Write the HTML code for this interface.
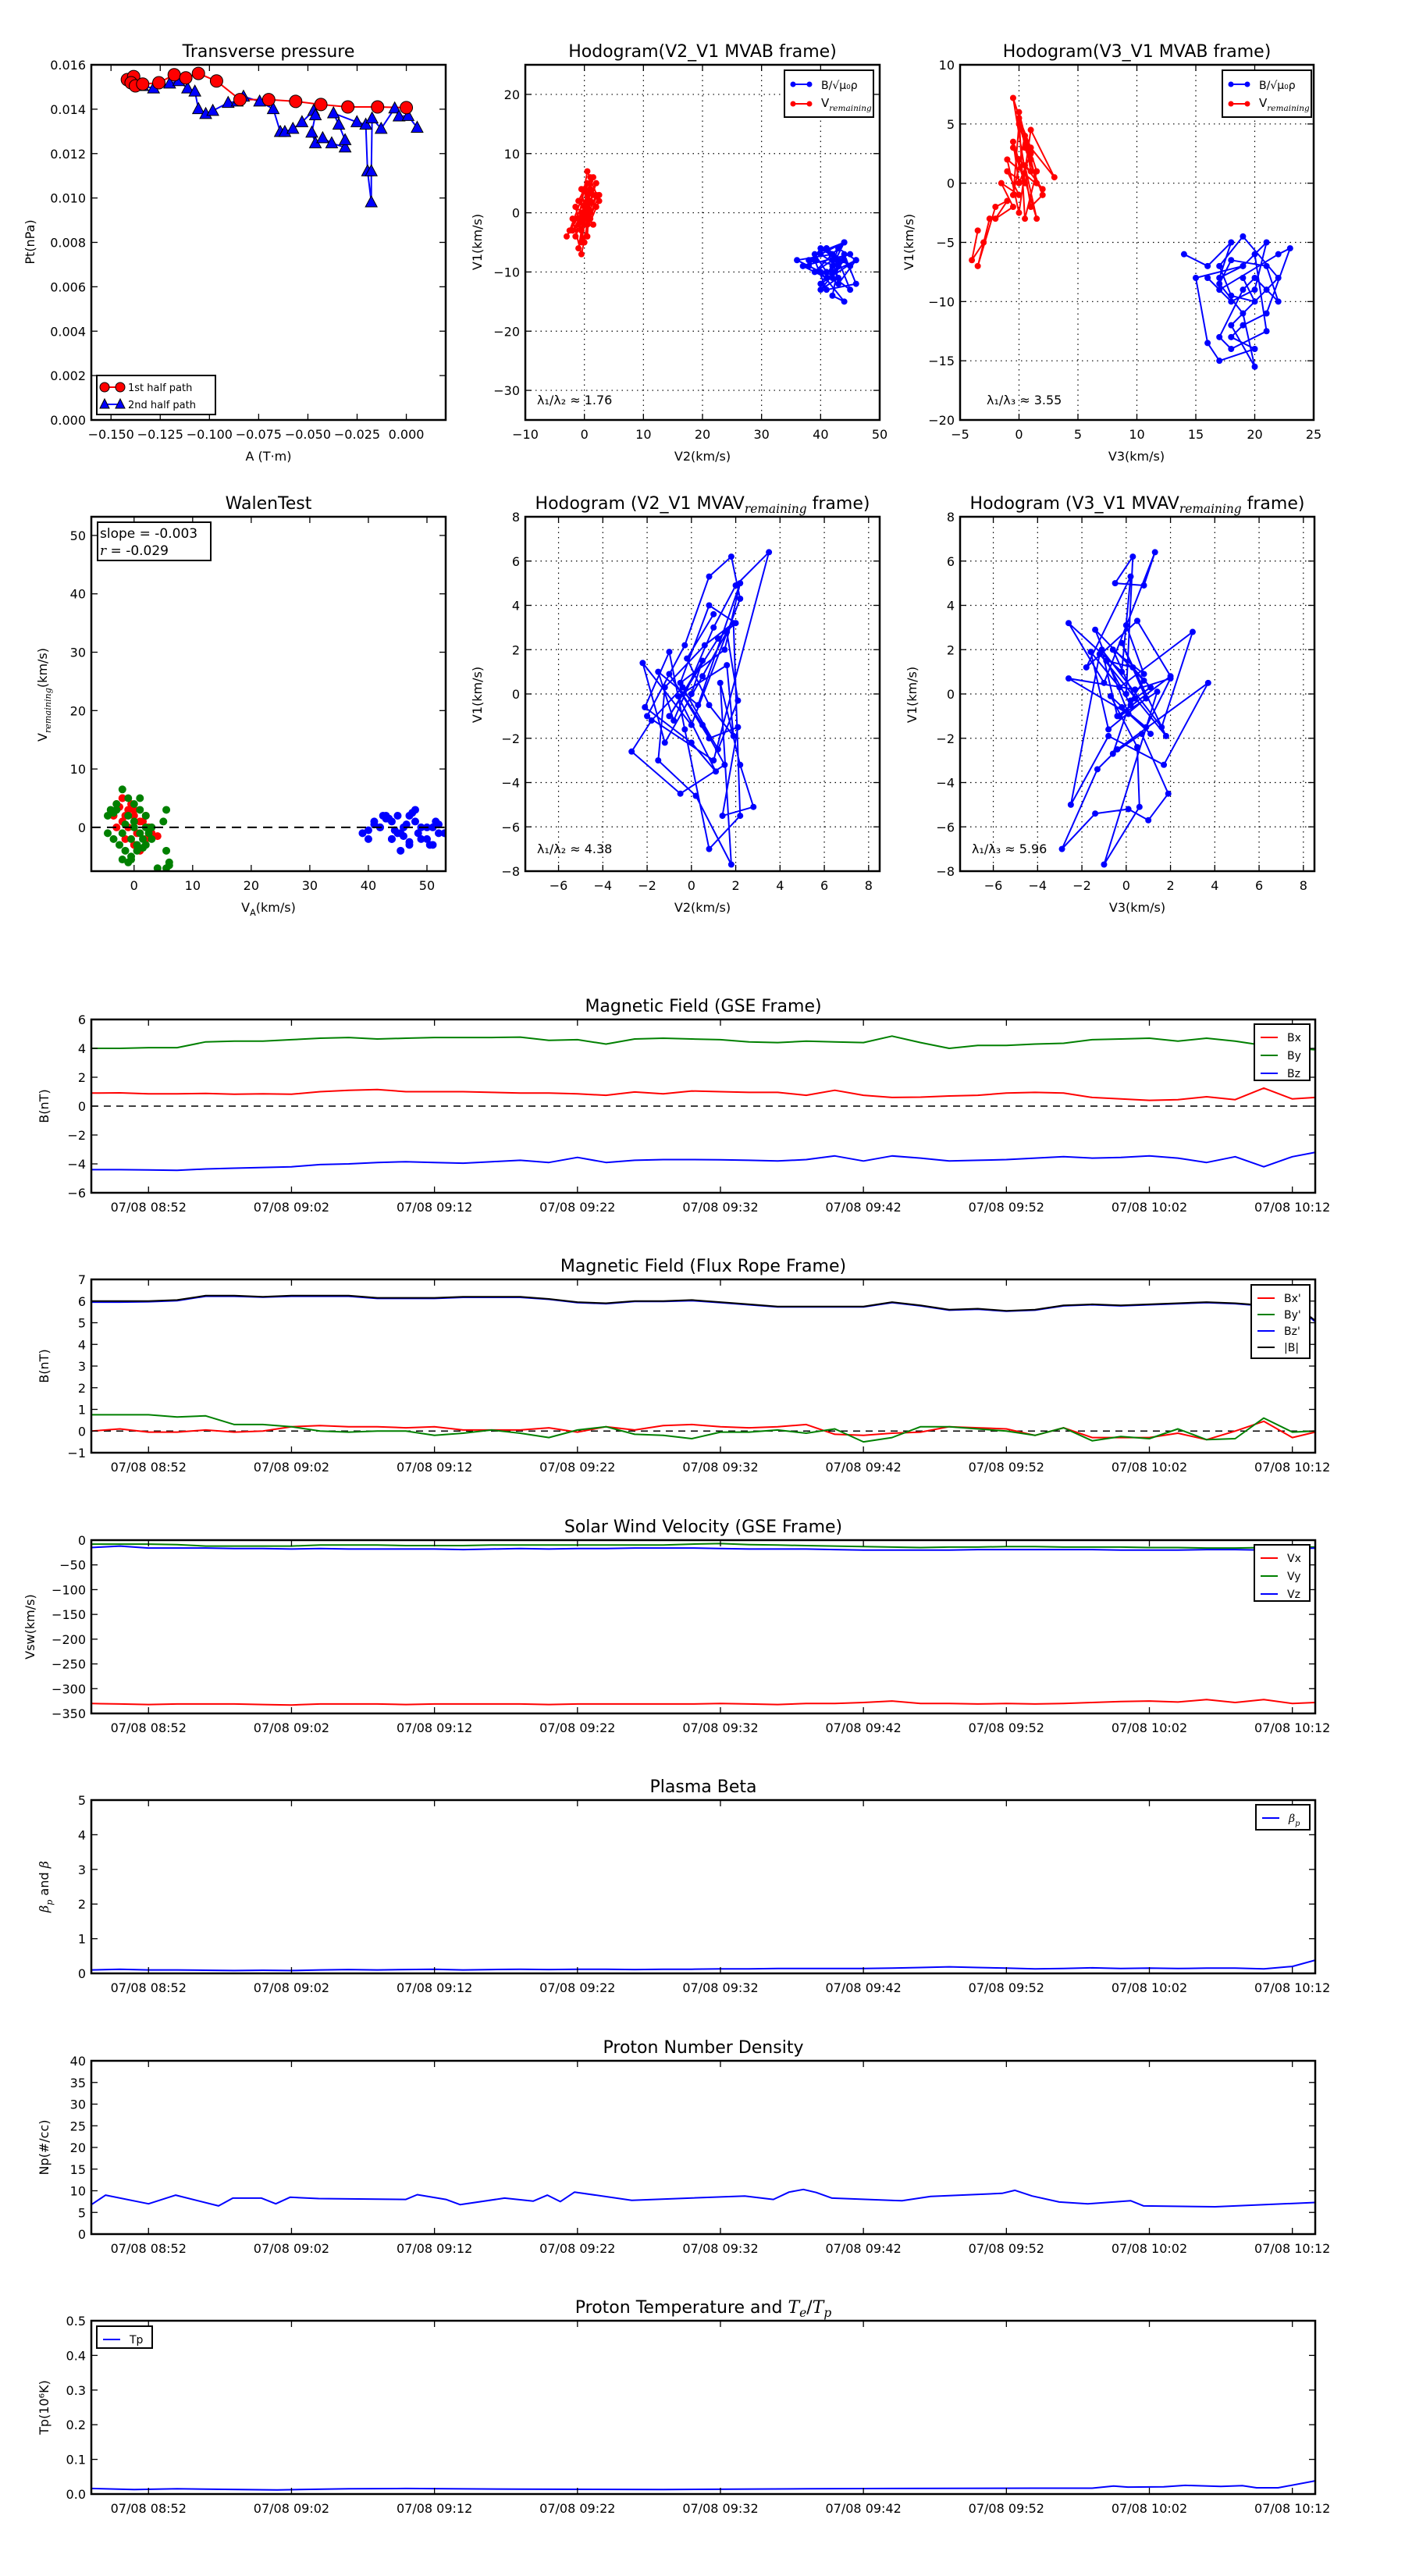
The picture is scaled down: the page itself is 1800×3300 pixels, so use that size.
<!DOCTYPE html>
<html><head><meta charset="utf-8"><style>
html,body{margin:0;padding:0;background:#fff;}
svg{display:block;font-family:"DejaVu Sans","Liberation Sans",sans-serif;}
</style></head><body>
<svg id="fig" width="1800" height="3300" viewBox="0 0 1800 3300" xmlns="http://www.w3.org/2000/svg"></svg>
<script>
// ---- Transverse pressure ----
const ptRedA = [-0.1417,-0.1385,-0.1398,-0.1376,-0.1339,-0.1257,-0.1179,-0.1120,-0.1056,-0.0964,-0.0845,-0.0699,-0.0562,-0.0434,-0.0297,-0.0146,0.0];
const ptRedP = [0.01533,0.01547,0.01519,0.01505,0.01513,0.01519,0.01555,0.01541,0.01561,0.01527,0.01443,0.01443,0.01435,0.01421,0.01410,0.01410,0.01407];
const ptBlueA = [-0.1339,-0.1284,-0.1202,-0.1156,-0.1111,-0.1074,-0.1056,-0.1019,-0.0983,-0.0905,-0.0859,-0.0827,-0.0745,-0.0676,-0.0640,-0.0617,-0.0576,-0.0530,-0.0471,-0.0462,-0.0480,-0.0462,-0.0425,-0.0379,-0.0311,-0.0311,-0.0343,-0.0370,-0.0251,-0.0206,-0.0197,-0.0178,-0.0178,-0.0174,-0.0128,-0.0059,-0.0037,0.0009,0.0055];
const ptBlueP = [0.01505,0.01494,0.01516,0.01527,0.01494,0.01480,0.01401,0.01379,0.01393,0.01429,0.01435,0.01457,0.01435,0.01401,0.01298,0.01298,0.01312,0.01342,0.01393,0.01373,0.01295,0.01247,0.01270,0.01247,0.01228,0.01261,0.01331,0.01382,0.01342,0.01331,0.01121,0.00981,0.01121,0.01359,0.01312,0.01404,0.01368,0.01370,0.01317];
// ---- Hodogram V2-V1 MVAB ----
const h1RedX = [0.5,-1,1.5,-0.5,2,0,-2,1,-1.5,0.5,2.5,-0.5,1,-3,0,1.5,-1,0.5,2,-2,-0.5,1,0,-1,1.5,-2.5,0.5,-0.5,2,1,-1.5,0,1,-0.5,0.5,2.5,-1,0,1,0.5];
const h1RedY = [1,-2,3,0,5,-1,-3,2,-4,7,2,-5,4,-4,1,6,-6,3,1,-1,-7,0,4,2,-2,-3,5,-3,3,-1,1,-5,2,4,-2,3,-1,0,6,-4];
const h1BlueX = [38,41,43,40,44,39,42,45,37,41,43,46,40,42,44,39,41,45,43,40,38,42,44,46,41,39,43,42,44,40,36,42,45,41,43,40,44,42,46,43];
const h1BlueY = [-8,-6,-9,-7,-5,-10,-8,-7,-9,-11,-6,-8,-12,-9,-5,-7,-10,-13,-8,-6,-9,-11,-7,-12,-13,-8,-9,-14,-15,-10,-8,-7,-9,-6,-11,-13,-8,-10,-8,-12];
// ---- Hodogram V3-V1 MVAB ----
const h2RedX = [-3.5,-4,-3,-2.5,-3.5,-2,-1,-2,-0.5,-1.5,0,-1,0.5,-0.5,0,1,0.5,-0.5,0,1.5,1,0,0.5,2,1,-0.5,1.5,0.5,0,1,3,1,0,-1,2,0.5,1.5,-0.5,0,1];
const h2RedY = [-4,-6.5,-5,-3,-7,-2,-1.5,-3,-2,0,-1,1,0,3,2,1,4,-1,5,0,2,6,3,-1,-2,7.2,1,-3,5.5,3,0.5,4.5,-2.5,2,-0.5,1.5,-3,3.5,0,2.5];
const h2BlueX = [14,16,18,17,19,21,20,18,16,17,22,23,21,19,18,20,17,16,15,19,20,21,18,17,19,20,22,21,18,17,19,20,18,21,22,19,17,18,20,19];
const h2BlueY = [-6,-7,-5,-8,-7,-5,-9,-10,-8,-9,-6,-5.5,-11,-12,-13,-14,-15,-13.5,-8,-7,-6,-12.5,-14,-13,-9,-8,-10,-7,-6.5,-8.5,-11,-15.5,-12,-9,-8,-4.5,-7,-9.5,-10,-8];
// ---- Walen test ----
const wRedX = [-3,-2,-1,0,1,-2.5,-1.5,0.5,2,3,-3.5,-1,0,1.5,4,-2,-0.5,1,2.5,-1.5,0,-3,2,1,-2];
const wRedY = [4,5,3,2,1,3.5,2,-1,-2,-1,2,0,-3,1,-1.5,1,4,-4,0,-2,3,0,2,-1,5];
const wGreenX = [-4,-3,-2,-1,0,1,2,3,-4.5,-3.5,-2.5,-1.5,-0.5,0.5,1.5,2.5,5.5,5,5.5,6,4,-4.5,-3,-1.5,0,1,2,3,-2,-0.5,1,2,5.5,6,-1,0.5,-3.5,-2,0,1.5,-1,-0.5];
const wGreenY = [3,4,6.5,5,4,3,2,0,-1,-2,-3,-4,-5,-3,-2,-1,3,1,-4,-6,-7,2,3,0.5,1,-1,-3,-2,-5.5,-5.5,5,0,-7,-6.5,-6,-4,2.5,-1,0,-3.5,2,-2];
const wBlueX = [39,40,41,42,43,44,45,46,47,48,49,50,51,52,53,41,42.5,44,45.5,47,48.5,50,51.5,43,44.5,46,47.5,49,42,43.5,45,46.5,48,50.5,52,40,44,47,51,45.5];
const wBlueY = [-1,-2,1,0,2,1,-1,0,2,1,0,-2,-3,0.5,-1,0.5,2,-2,-4,-3,-1,0,1,1.5,-0.5,-1.5,2.5,-2,0,1.5,2,0.5,3,-3,-1,-0.5,-2,-2.5,0,-1];
// ---- MVAV hodograms ----
const m1X = [0,0.5,-1,1.2,2,0.8,-0.5,1.5,2.2,0.3,-1.5,-0.8,1,2,3.5,1,-2,-0.3,0.8,1.8,2.2,0,-2.2,-1.2,0.5,1.6,2.1,1.2,-0.4,-1.8,-2.7,-0.5,1.5,0.5,-1,0.8,2.1,1.4,2.8,2.2,1.3,1.8,0.2,-1.5,-1.2,0.6,1.9,2.2,0.8,-0.3,-1,-2.1,0,1.1,-0.6,1.6,1.9,0.8,-0.2,1];
const m1Y = [0,1.5,-1,2.5,3.2,4,0.5,2,5,-0.5,1,-1.2,3,4.9,6.4,-3,-1,2.2,5.3,6.2,4.3,-1.4,1.4,-2.2,0.8,2.8,-0.3,-2.5,0.3,-1.2,-2.6,-4.5,-3.2,-1.4,0.9,-2,-1.5,-5.5,-5.1,-3.2,0.5,-7.7,-4.6,-3,0.3,2.2,3.2,-5.5,-7,-1.6,1.9,-0.6,-2.2,-3.5,-0.1,1.3,-1.9,-0.5,1.6,3.6];
const m2X = [0,0.3,-0.5,0.8,1.3,-1,-2.6,-0.2,0.2,-1.8,0.5,2,-0.4,-1.1,1.6,3,-0.3,-1.6,-0.8,0.9,-0.2,1.8,-1.2,-2.5,-0.8,1.7,3.7,-0.4,-1.3,-2.9,-1.4,0.1,1,1.9,0.7,-0.6,0.2,0.8,-1.4,0.1,-2.6,0.4,2,0.9,-0.2,1.1,-0.7,0.5,0.6,-1,1.4,-0.3,0.2,-0.9,0.3,1.1,0.4,-0.6,0.8,0];
const m2Y = [0,6.2,5,4.9,6.4,0.5,3.2,1,5.3,1.2,3.3,0.8,-1,2,-1.5,2.8,0.3,1.9,-1.6,-0.2,2.3,-1.9,1.8,-5,-1.9,-3.2,0.5,-2.5,-3.4,-7,-5.4,-5.2,-5.7,-4.5,-1.8,-2.7,-0.3,0.6,2.9,-0.9,0.7,0.2,0.7,-1.5,-0.6,-1.8,-0.1,-2.4,-5.1,-7.7,0.1,-1,-0.5,1.5,1.2,0.3,-0.2,2,0.9,3.1];
// ---- Time series (minutes after 07/08 08:48) ----
const timeTickMin = [4,14,24,34,44,54,64,74,84];
const timeTickLabels = ["07/08 08:52","07/08 09:02","07/08 09:12","07/08 09:22","07/08 09:32","07/08 09:42","07/08 09:52","07/08 10:02","07/08 10:12"];
const tGrid = [0,2,4,6,8,10,12,14,16,18,20,22,24,26,28,30,32,34,36,38,40,42,44,46,48,50,52,54,56,58,60,62,64,66,68,70,72,74,76,78,80,82,84,85.6];
const gseBy = [4.0,4.0,4.05,4.05,4.45,4.5,4.5,4.6,4.7,4.75,4.65,4.7,4.75,4.75,4.75,4.78,4.55,4.6,4.3,4.65,4.7,4.65,4.6,4.45,4.4,4.5,4.45,4.4,4.85,4.4,4.0,4.2,4.2,4.3,4.35,4.6,4.65,4.7,4.5,4.7,4.5,4.2,4.0,3.9];
const gseBx = [0.9,0.92,0.85,0.85,0.88,0.82,0.85,0.82,1.0,1.1,1.15,1.0,1.0,1.0,0.95,0.9,0.9,0.85,0.75,0.98,0.85,1.05,1.0,0.95,0.95,0.75,1.1,0.75,0.6,0.62,0.7,0.75,0.9,0.95,0.9,0.6,0.5,0.4,0.45,0.65,0.45,1.25,0.5,0.6];
const gseBz = [-4.4,-4.4,-4.42,-4.45,-4.35,-4.3,-4.25,-4.2,-4.05,-4.0,-3.9,-3.85,-3.9,-3.95,-3.85,-3.75,-3.9,-3.55,-3.9,-3.75,-3.7,-3.7,-3.72,-3.75,-3.8,-3.7,-3.45,-3.8,-3.45,-3.6,-3.8,-3.75,-3.7,-3.6,-3.5,-3.6,-3.55,-3.45,-3.6,-3.9,-3.5,-4.2,-3.5,-3.2];
const frBmag = [6.0,6.0,6.0,6.05,6.25,6.25,6.2,6.25,6.25,6.25,6.15,6.15,6.15,6.2,6.2,6.2,6.1,5.95,5.9,6.0,6.0,6.05,5.95,5.85,5.75,5.75,5.75,5.75,5.95,5.8,5.6,5.65,5.55,5.6,5.8,5.85,5.8,5.85,5.9,5.95,5.9,5.8,5.9,5.1];
const frBz = [5.95,5.95,5.97,6.02,6.22,6.22,6.18,6.22,6.22,6.22,6.12,6.12,6.12,6.17,6.17,6.17,6.08,5.93,5.88,5.98,5.98,6.02,5.93,5.83,5.73,5.73,5.73,5.73,5.93,5.78,5.58,5.62,5.53,5.58,5.78,5.83,5.78,5.83,5.88,5.93,5.88,5.78,5.88,5.05];
const frBy = [0.75,0.75,0.75,0.65,0.7,0.3,0.3,0.2,0.0,-0.05,0.0,0.0,-0.2,-0.1,0.05,-0.1,-0.3,0.05,0.2,-0.15,-0.2,-0.35,-0.05,-0.05,0.05,-0.1,0.1,-0.5,-0.3,0.2,0.2,0.1,0.0,-0.2,0.15,-0.45,-0.25,-0.35,0.1,-0.4,-0.35,0.6,-0.05,0.0];
const frBx = [0.0,0.1,-0.05,-0.05,0.05,-0.05,0.0,0.2,0.25,0.2,0.2,0.15,0.2,0.05,0.05,0.05,0.15,-0.05,0.2,0.05,0.25,0.3,0.2,0.15,0.2,0.3,-0.15,-0.2,-0.1,-0.05,0.2,0.15,0.1,-0.2,0.15,-0.3,-0.3,-0.3,-0.1,-0.4,0.0,0.45,-0.3,-0.05];
const vx = [-330,-331,-332,-331,-331,-331,-332,-333,-331,-331,-331,-332,-331,-331,-331,-331,-332,-331,-331,-331,-331,-331,-330,-331,-332,-330,-330,-328,-325,-330,-330,-331,-330,-331,-330,-328,-326,-325,-327,-322,-328,-322,-330,-328];
const vy = [-8,-8,-8,-9,-12,-12,-12,-12,-10,-10,-10,-11,-11,-11,-10,-10,-10,-10,-10,-10,-10,-8,-7,-9,-10,-11,-12,-13,-14,-15,-14,-14,-13,-13,-14,-14,-14,-15,-15,-16,-16,-15,-14,-14];
const vz = [-15,-12,-16,-16,-16,-17,-17,-18,-17,-18,-18,-18,-18,-19,-18,-17,-18,-17,-17,-16,-16,-16,-17,-18,-18,-18,-19,-20,-20,-20,-20,-19,-19,-19,-19,-19,-20,-20,-20,-19,-19,-20,-18,-16];
const betaP = [0.10,0.12,0.10,0.10,0.09,0.08,0.09,0.08,0.10,0.11,0.10,0.11,0.12,0.10,0.11,0.12,0.11,0.12,0.12,0.11,0.12,0.12,0.13,0.13,0.14,0.14,0.14,0.14,0.15,0.17,0.19,0.17,0.15,0.13,0.14,0.16,0.14,0.15,0.14,0.15,0.15,0.13,0.20,0.38];
const npT = [0,1.0,4.0,5.9,8.9,9.9,11.9,12.9,13.9,15.9,22.0,22.8,24.8,25.8,28.9,30.9,31.9,32.8,33.8,37.8,45.7,47.7,48.8,49.8,50.7,51.8,56.7,58.7,63.7,64.6,65.8,67.7,69.7,72.7,73.6,78.6,85.6];
const npV = [6.8,9.0,7.0,9.0,6.5,8.3,8.3,7.0,8.5,8.2,8.0,9.1,8.0,6.8,8.3,7.6,9.0,7.5,9.7,7.8,8.8,8.0,9.7,10.3,9.6,8.3,7.7,8.7,9.4,10.1,8.8,7.4,7.0,7.7,6.5,6.3,7.3];
const tpT = [0,3,6,13,18,22,30,40,50,56,66,70,71.5,72.5,75,76.5,79,80.5,81.5,83,85.6];
const tpV = [0.016,0.013,0.015,0.012,0.015,0.016,0.014,0.013,0.015,0.016,0.017,0.017,0.023,0.020,0.021,0.025,0.022,0.024,0.018,0.018,0.038];

const NS = "http://www.w3.org/2000/svg";
const fig = document.getElementById('fig');
function el(tag, attrs, parent, name, inter){
  const e = document.createElementNS(NS, tag);
  for (const k in attrs) e.setAttribute(k, attrs[k]);
  
  
  (parent || fig).appendChild(e);
  return e;
}
function txt(x, y, s, size, anchor, name, extra){
  const a = Object.assign({x:x, y:y, 'font-size':size, 'text-anchor':anchor||'middle', fill:'#000'}, extra||{});
  const t = el('text', a, fig, name, false);
  t.textContent = s;
  return t;
}
// parts: [[text, sub(bool), italic(bool)], ...]
function rich(t, parts){
  t.textContent = '';
  let shifted = false;
  parts.forEach(p => {
    const ts = document.createElementNS(NS, 'tspan');
    if (p[1] && !shifted) { ts.setAttribute('dy', '5'); shifted = true; }
    else if (!p[1] && shifted) { ts.setAttribute('dy', '-5'); shifted = false; }
    if (p[1]) ts.setAttribute('font-size', '70%');
    if (p[2]) { ts.setAttribute('font-style', 'italic'); ts.setAttribute('font-family', '"DejaVu Serif","Liberation Serif",serif'); }
    ts.textContent = p[0];
    t.appendChild(ts);
  });
}
function fmt(v, d){ const s = Math.abs(v).toFixed(d); return (v < 0 ? '\u2212' : '') + s; }

function makeAxes(o){
  const g = el('g', {}, fig, o.name, false);
  const sx = v => o.x + (v - o.xmin) / (o.xmax - o.xmin) * o.w;
  const sy = v => o.y + o.h - (v - o.ymin) / (o.ymax - o.ymin) * o.h;
  const clipId = 'clip-' + o.name;
  const cp = el('clipPath', {id: clipId}, g, 'clip', false);
  el('rect', {x:o.x, y:o.y, width:o.w, height:o.h}, cp, 'clip-rect', false);
  if (o.grid){
    o.xticks.forEach(v => { const X = sx(v); el('line', {x1:X, x2:X, y1:o.y, y2:o.y+o.h, stroke:'#000', 'stroke-width':1.2, 'stroke-dasharray':'1.5,5'}, g, 'x-grid-line', false); });
    o.yticks.forEach(v => { const Y = sy(v); el('line', {x1:o.x, x2:o.x+o.w, y1:Y, y2:Y, stroke:'#000', 'stroke-width':1.2, 'stroke-dasharray':'1.5,5'}, g, 'y-grid-line', false); });
  }
  const plot = el('g', {'clip-path':'url(#'+clipId+')'}, g, 'plot-area', false);
  o.xticks.forEach((v,i) => {
    const X = sx(v);
    el('line', {x1:X, x2:X, y1:o.y+o.h, y2:o.y+o.h-8, stroke:'#000', 'stroke-width':1.3}, g, 'x-tick', false);
    el('line', {x1:X, x2:X, y1:o.y, y2:o.y+8, stroke:'#000', 'stroke-width':1.3}, g, 'x-tick', false);
    txt(X, o.y+o.h+24, o.xlabels[i], o.tickSize||16, 'middle', 'x-tick-label');
  });
  o.yticks.forEach((v,i) => {
    const Y = sy(v);
    el('line', {x1:o.x, x2:o.x+8, y1:Y, y2:Y, stroke:'#000', 'stroke-width':1.3}, g, 'y-tick', false);
    el('line', {x1:o.x+o.w, x2:o.x+o.w-8, y1:Y, y2:Y, stroke:'#000', 'stroke-width':1.3}, g, 'y-tick', false);
    txt(o.x-7, Y+6, o.ylabels[i], 16, 'end', 'y-tick-label');
  });
  let titleEl = null;
  if (o.title) titleEl = txt(o.x+o.w/2, o.y-10, o.title, 22, 'middle', 'chart-title');
  return {g:g, plot:plot, sx:sx, sy:sy, o:o, title:titleEl, frame:() => el('rect', {x:o.x, y:o.y, width:o.w, height:o.h, fill:'none', stroke:'#000', 'stroke-width':2.5}, g, 'axes-frame', false)};
}
function line(ax, xs, ys, color, name, width){
  const pts = xs.map((v,i) => ax.sx(v).toFixed(1)+','+ax.sy(ys[i]).toFixed(1)).join(' ');
  return el('polyline', {points:pts, fill:'none', stroke:color, 'stroke-width':width||2, 'stroke-linejoin':'round'}, ax.plot, name, false);
}
function dots(ax, xs, ys, color, r, name, stroke){
  xs.forEach((v,i) => {
    el('circle', {cx:ax.sx(v), cy:ax.sy(ys[i]), r:r, fill:color, stroke:stroke||'none', 'stroke-width':1}, ax.plot, name, false);
  });
}
function tris(ax, xs, ys, color, name){
  xs.forEach((v,i) => {
    const X = ax.sx(v), Y = ax.sy(ys[i]);
    el('polygon', {points:(X)+','+(Y-8)+' '+(X-7.5)+','+(Y+6)+' '+(X+7.5)+','+(Y+6), fill:color, stroke:'#000', 'stroke-width':1}, ax.plot, name, false);
  });
}
function ylab(x, y, s, name, size){
  return txt(x, y, s, size||16, 'middle', name, {transform:'rotate(-90 '+x+' '+y+')'});
}
function range(a,b,s){ const r=[]; for(let v=a; v<=b+1e-9; v+=s) r.push(+v.toFixed(6)); return r; }

// ===== Transverse pressure =====
(function(){
  const xt = [-0.150,-0.125,-0.100,-0.075,-0.050,-0.025,0.000];
  const yt = range(0,0.016,0.002);
  const ax = makeAxes({name:'transverse-pressure-chart', x:117, y:83, w:454, h:455, xmin:-0.160, xmax:0.020, ymin:0, ymax:0.016,
    xticks:xt, xlabels:xt.map(v=>fmt(v,3)), yticks:yt, ylabels:yt.map(v=>v.toFixed(3)), title:'Transverse pressure'});
  line(ax, ptBlueA, ptBlueP, '#0000ff', 'second-half-line', 2);
  line(ax, ptRedA, ptRedP, '#ff0000', 'first-half-line', 2);
  tris(ax, ptBlueA, ptBlueP, '#0000ff', 'second-half-marker');
  dots(ax, ptRedA, ptRedP, '#ff0000', 8, 'first-half-marker', '#000');
  ax.frame();
  txt(344, 590, 'A (T\u00b7m)', 16, 'middle', 'x-axis-title');
  ylab(44, 310, 'Pt(nPa)', 'y-axis-title');
  const lg = el('g', {}, fig, 'legend', false);
  el('rect', {x:124, y:481, width:152, height:50, fill:'#fff', stroke:'#000', 'stroke-width':2}, lg, 'legend-box', false);
  el('line', {x1:132, x2:156, y1:496, y2:496, stroke:'#ff0000', 'stroke-width':2}, lg, 'legend-line', false);
  el('circle', {cx:134, cy:496, r:6, fill:'#f00', stroke:'#000'}, lg, 'legend-marker', false);
  el('circle', {cx:154, cy:496, r:6, fill:'#f00', stroke:'#000'}, lg, 'legend-marker', false);
  txt(164, 501, '1st half path', 13, 'start', 'legend-entry');
  el('line', {x1:132, x2:156, y1:518, y2:518, stroke:'#0000ff', 'stroke-width':2}, lg, 'legend-line', false);
  el('polygon', {points:'134,511 128,523 140,523', fill:'#00f', stroke:'#000'}, lg, 'legend-marker', false);
  el('polygon', {points:'154,511 148,523 160,523', fill:'#00f', stroke:'#000'}, lg, 'legend-marker', false);
  txt(164, 523, '2nd half path', 13, 'start', 'legend-entry');
})();

function hodoLegend(x, y, name){
  const lg = el('g', {}, fig, name, false);
  el('rect', {x:x, y:y, width:114, height:60, fill:'#fff', stroke:'#000', 'stroke-width':2}, lg, 'legend-box', false);
  el('line', {x1:x+10, x2:x+33, y1:y+18, y2:y+18, stroke:'#00f', 'stroke-width':2}, lg, 'legend-line', false);
  el('circle', {cx:x+11, cy:y+18, r:3.5, fill:'#00f'}, lg, 'legend-marker', false);
  el('circle', {cx:x+32, cy:y+18, r:3.5, fill:'#00f'}, lg, 'legend-marker', false);
  txt(x+47, y+24, 'B/\u221a\u03bc\u2080\u03c1', 14, 'start', 'legend-entry');
  el('line', {x1:x+10, x2:x+33, y1:y+43, y2:y+43, stroke:'#f00', 'stroke-width':2}, lg, 'legend-line', false);
  el('circle', {cx:x+11, cy:y+43, r:3.5, fill:'#f00'}, lg, 'legend-marker', false);
  el('circle', {cx:x+32, cy:y+43, r:3.5, fill:'#f00'}, lg, 'legend-marker', false);
  const t = txt(x+47, y+47, 'V', 15, 'start', 'legend-entry');
  rich(t, [['V',false,false],['remaining',true,true]]);
}

// ===== Hodogram V2_V1 MVAB =====
(function(){
  const xt = range(-10,50,10), yt = range(-30,20,10);
  const ax = makeAxes({name:'hodogram-v2-v1-mvab', x:673, y:83, w:454, h:455, xmin:-10, xmax:50, ymin:-35, ymax:25,
    xticks:xt, xlabels:xt.map(v=>fmt(v,0)), yticks:yt, ylabels:yt.map(v=>fmt(v,0)), grid:true, title:'Hodogram(V2_V1 MVAB frame)'});
  line(ax, h1BlueX, h1BlueY, '#0000ff', 'b-alfven-line', 2);
  dots(ax, h1BlueX, h1BlueY, '#0000ff', 4, 'b-alfven-point');
  line(ax, h1RedX, h1RedY, '#ff0000', 'v-remaining-line', 2);
  dots(ax, h1RedX, h1RedY, '#ff0000', 4, 'v-remaining-point');
  ax.frame();
  hodoLegend(1005, 90, 'legend');
  txt(688, 518, '\u03bb\u2081/\u03bb\u2082 \u2248 1.76', 16, 'start', 'eigenvalue-ratio');
  txt(900, 590, 'V2(km/s)', 16, 'middle', 'x-axis-title');
  ylab(617, 310, 'V1(km/s)', 'y-axis-title');
})();

// ===== Hodogram V3_V1 MVAB =====
(function(){
  const xt = range(-5,25,5), yt = range(-20,10,5);
  const ax = makeAxes({name:'hodogram-v3-v1-mvab', x:1230, y:83, w:453, h:455, xmin:-5, xmax:25, ymin:-20, ymax:10,
    xticks:xt, xlabels:xt.map(v=>fmt(v,0)), yticks:yt, ylabels:yt.map(v=>fmt(v,0)), grid:true, title:'Hodogram(V3_V1 MVAB frame)'});
  line(ax, h2BlueX, h2BlueY, '#0000ff', 'b-alfven-line', 2);
  dots(ax, h2BlueX, h2BlueY, '#0000ff', 4, 'b-alfven-point');
  line(ax, h2RedX, h2RedY, '#ff0000', 'v-remaining-line', 2);
  dots(ax, h2RedX, h2RedY, '#ff0000', 4, 'v-remaining-point');
  ax.frame();
  hodoLegend(1566, 90, 'legend');
  txt(1264, 518, '\u03bb\u2081/\u03bb\u2083 \u2248 3.55', 16, 'start', 'eigenvalue-ratio');
  txt(1456, 590, 'V3(km/s)', 16, 'middle', 'x-axis-title');
  ylab(1170, 310, 'V1(km/s)', 'y-axis-title');
})();

// ===== Walen test =====
(function(){
  const xt = range(0,50,10), yt = range(0,50,10);
  const ax = makeAxes({name:'walen-test-chart', x:117, y:662, w:454, h:454, xmin:-7.3, xmax:53.2, ymin:-7.5, ymax:53.2,
    xticks:xt, xlabels:xt.map(v=>fmt(v,0)), yticks:yt, ylabels:yt.map(v=>fmt(v,0)), title:'WalenTest'});
  dots(ax, wRedX, wRedY, '#ff0000', 5, 'walen-red-point');
  dots(ax, wGreenX, wGreenY, '#008000', 5, 'walen-green-point');
  dots(ax, wBlueX, wBlueY, '#0000ff', 5, 'walen-blue-point');
  el('line', {x1:ax.sx(-7.3), x2:ax.sx(53.2), y1:ax.sy(0), y2:ax.sy(0), stroke:'#000', 'stroke-width':2, 'stroke-dasharray':'12,8'}, ax.plot, 'fit-line', false);
  ax.frame();
  el('rect', {x:125, y:669, width:145, height:49, fill:'#fff', stroke:'#000', 'stroke-width':2}, fig, 'stats-box', false);
  txt(128, 689, 'slope = -0.003', 17, 'start', 'slope-text');
  const rt = txt(128, 711, 'r = -0.029', 17, 'start', 'r-text');
  rich(rt, [['r',false,true],[' = -0.029',false,false]]);
  const xl = txt(344, 1168, 'VA(km/s)', 16, 'middle', 'x-axis-title');
  rich(xl, [['V',false,false],['A',true,false],['(km/s)',false,false]]);
  const yl = ylab(60, 890, 'V remaining (km/s)', 'y-axis-title');
  rich(yl, [['V',false,false],['remaining',true,true],['(km/s)',false,false]]);
})();

// ===== MVAV hodograms =====
function mvav(name, x0, pre, xs, ys, ratio, xl){
  const xt = range(-6,8,2), yt = range(-8,8,2);
  const ax = makeAxes({name:name, x:x0, y:662, w:454, h:454, xmin:-7.5, xmax:8.5, ymin:-8, ymax:8,
    xticks:xt, xlabels:xt.map(v=>fmt(v,0)), yticks:yt, ylabels:yt.map(v=>fmt(v,0)), grid:true, title:pre + ' MVAV remaining frame)'});
  rich(ax.title, [[pre + ' MVAV',false,false],['remaining',true,true],[' frame)',false,false]]);
  line(ax, xs, ys, '#0000ff', 'hodogram-line', 2);
  dots(ax, xs, ys, '#0000ff', 4, 'hodogram-point');
  ax.frame();
  txt(x0+15, 1093, ratio, 16, 'start', 'eigenvalue-ratio');
  txt(x0+227, 1168, xl, 16, 'middle', 'x-axis-title');
  ylab(x0-56, 890, 'V1(km/s)', 'y-axis-title');
}
mvav('hodogram-v2-v1-mvav', 673, 'Hodogram (V2_V1', m1X, m1Y, '\u03bb\u2081/\u03bb\u2082 \u2248 4.38', 'V2(km/s)');
mvav('hodogram-v3-v1-mvav', 1230, 'Hodogram (V3_V1', m2X, m2Y, '\u03bb\u2081/\u03bb\u2083 \u2248 5.96', 'V3(km/s)');

// ===== Time series =====
function ts(o){
  const ax = makeAxes({name:o.name, x:117, y:o.y, w:1568, h:222, xmin:0, xmax:85.6, ymin:o.ymin, ymax:o.ymax,
    xticks:timeTickMin, xlabels:timeTickLabels, yticks:o.yt, ylabels:o.yt.map(o.yf), title:o.title});
  if (o.zero) el('line', {x1:117, x2:1685, y1:ax.sy(0), y2:ax.sy(0), stroke:'#000', 'stroke-width':1.5, 'stroke-dasharray':'9,7'}, ax.plot, 'zero-line', false);
  o.series.forEach(s => line(ax, s.t, s.v, s.c, s.n, 2));
  ax.frame();
  ax.ylabel = ylab(o.ylx || 62, o.y+111, o.ylabel, 'y-axis-title');
  if (o.legend){
    const L = o.legend;
    const lg = el('g', {}, fig, 'legend', false);
    el('rect', {x:L.x, y:L.y, width:L.w, height:L.h, fill:'#fff', stroke:'#000', 'stroke-width':2}, lg, 'legend-box', false);
    ax.legendTexts = [];
    L.items.forEach((it,i) => {
      const yy = L.y + 17 + i*L.step;
      el('line', {x1:L.x+8, x2:L.x+30, y1:yy, y2:yy, stroke:it.c, 'stroke-width':2}, lg, 'legend-line', false);
      ax.legendTexts.push(txt(L.x+42, yy+5, it.n, 14, 'start', 'legend-entry'));
    });
  }
  return ax;
}
ts({name:'magnetic-field-gse-chart', y:1306, ymin:-6, ymax:6, yt:range(-6,6,2), yf:v=>fmt(v,0), title:'Magnetic Field (GSE Frame)', zero:true, ylabel:'B(nT)',
  series:[{t:tGrid,v:gseBx,c:'#ff0000',n:'bx-line'},{t:tGrid,v:gseBy,c:'#008000',n:'by-line'},{t:tGrid,v:gseBz,c:'#0000ff',n:'bz-line'}],
  legend:{x:1607,y:1312,w:71,h:72,step:23,items:[{n:'Bx',c:'#f00'},{n:'By',c:'#008000'},{n:'Bz',c:'#00f'}]}});
ts({name:'magnetic-field-flux-rope-chart', y:1639, ymin:-1, ymax:7, yt:range(-1,7,1), yf:v=>fmt(v,0), title:'Magnetic Field (Flux Rope Frame)', zero:true, ylabel:'B(nT)',
  series:[{t:tGrid,v:frBx,c:'#ff0000',n:'bx-prime-line'},{t:tGrid,v:frBy,c:'#008000',n:'by-prime-line'},{t:tGrid,v:frBz,c:'#0000ff',n:'bz-prime-line'},{t:tGrid,v:frBmag,c:'#000000',n:'b-magnitude-line'}],
  legend:{x:1603,y:1646,w:75,h:94,step:21,items:[{n:"Bx'",c:'#f00'},{n:"By'",c:'#008000'},{n:"Bz'",c:'#00f'},{n:'|B|',c:'#000'}]}});
ts({name:'solar-wind-velocity-chart', y:1973, ymin:-350, ymax:0, yt:range(-350,0,50), yf:v=>fmt(v,0), title:'Solar Wind Velocity (GSE Frame)', ylabel:'Vsw(km/s)', ylx:44,
  series:[{t:tGrid,v:vx,c:'#ff0000',n:'vx-line'},{t:tGrid,v:vy,c:'#008000',n:'vy-line'},{t:tGrid,v:vz,c:'#0000ff',n:'vz-line'}],
  legend:{x:1607,y:1979,w:71,h:72,step:23,items:[{n:'Vx',c:'#f00'},{n:'Vy',c:'#008000'},{n:'Vz',c:'#00f'}]}});
const betaAx = ts({name:'plasma-beta-chart', y:2306, ymin:0, ymax:5, yt:range(0,5,1), yf:v=>v.toFixed(0), title:'Plasma Beta', ylabel:'\u03b2p and \u03b2',
  series:[{t:tGrid,v:betaP,c:'#0000ff',n:'beta-p-line'}],
  legend:{x:1609,y:2312,w:69,h:32,step:0,items:[{n:'\u03b2p',c:'#00f'}]}});
rich(betaAx.ylabel, [['\u03b2',false,true],['p',true,true],[' and ',false,false],['\u03b2',false,true]]);
rich(betaAx.legendTexts[0], [['\u03b2',false,true],['p',true,true]]);
ts({name:'proton-density-chart', y:2640, ymin:0, ymax:40, yt:range(0,40,5), yf:v=>v.toFixed(0), title:'Proton Number Density', ylabel:'Np(#/cc)',
  series:[{t:npT,v:npV,c:'#0000ff',n:'np-line'}]});
const tpAx = ts({name:'proton-temperature-chart', y:2973, ymin:0, ymax:0.5, yt:range(0,0.5,0.1), yf:v=>v.toFixed(1), title:'Proton Temperature and Te/Tp', ylabel:'Tp(10\u2076K)',
  series:[{t:tpT,v:tpV,c:'#0000ff',n:'tp-line'}],
  legend:{x:124,y:2980,w:71,h:28,step:0,items:[{n:'Tp',c:'#00f'}]}});
rich(tpAx.title, [['Proton Temperature and ',false,false],['T',false,true],['e',true,true],['/',false,false],['T',false,true],['p',true,true]]);
</script>
</body></html>
